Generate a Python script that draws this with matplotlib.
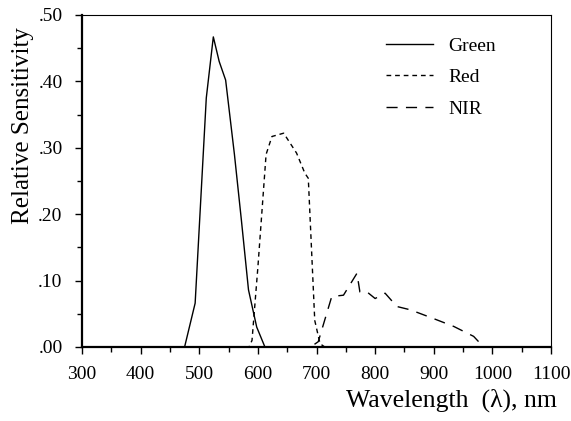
import matplotlib
matplotlib.use("Agg")
import matplotlib.pyplot as plt
from matplotlib.ticker import MultipleLocator, FuncFormatter

plt.rcParams['font.family'] = ['Liberation Serif', 'DejaVu Serif']

green_nm = [300, 470, 475, 493, 512, 524, 534, 545, 560, 572, 584, 598, 612, 1100]
green_val = [0.0, 0.0, 0.0, 0.066, 0.375, 0.467, 0.43, 0.402, 0.29, 0.19, 0.086, 0.03, 0.0, 0.0]

red_nm = [300, 585, 590, 600, 614, 624, 644, 666, 680, 686, 697, 706, 714, 1100]
red_val = [0.0, 0.0, 0.01, 0.12, 0.29, 0.317, 0.322, 0.292, 0.262, 0.254, 0.04, 0.005, 0.0, 0.0]

nir_nm = [300, 690, 703, 726, 746, 769, 774, 786, 800, 817, 837, 860, 899, 934, 968, 985, 1100]
nir_val = [0.0, 0.0, 0.008, 0.076, 0.078, 0.111, 0.083, 0.083, 0.073, 0.081, 0.061, 0.056, 0.043, 0.031, 0.016, 0.0, 0.0]

series_labels = ["Green", "Red", "NIR"]

fig = plt.figure(figsize=(5.71, 4.21), dpi=100)
ax = fig.add_axes([0.1436, 0.1758, 0.8214, 0.7886])

ax.plot(green_nm, green_val, color='black', lw=1.0, linestyle='-', label=series_labels[0])
ax.plot(red_nm, red_val, color='black', lw=1.0, linestyle=(0, (3.4, 2.8)), label=series_labels[1])
ax.plot(nir_nm, nir_val, color='black', lw=1.0, linestyle=(0, (8, 6)), label=series_labels[2])

ax.set_xlim(300, 1100)
ax.set_ylim(0, 0.5)
ax.xaxis.set_major_locator(MultipleLocator(100))
ax.xaxis.set_minor_locator(MultipleLocator(50))
ax.yaxis.set_major_locator(MultipleLocator(0.1))
ax.yaxis.set_minor_locator(MultipleLocator(0.05))
ax.yaxis.set_major_formatter(FuncFormatter(lambda v, p: ("%.2f" % v)[1:] if v < 1 else "%.2f" % v))

ax.tick_params(which='major', direction='out', length=5, width=1, labelsize=14, pad=9)
ax.tick_params(which='minor', direction='out', length=3.5, width=1)
for s in ['left', 'bottom']:
    ax.spines[s].set_linewidth(1.6)
for s in ['top', 'right']:
    ax.spines[s].set_linewidth(0.8)

fig.text(23 / 571, (421 - 126) / 421, "Relative Sensitivity", fontsize=18,
         rotation=90, ha='center', va='center')
fig.text(557 / 571, 14 / 421, "Wavelength  (\u03bb), nm", fontsize=18.5,
         ha='right', va='baseline')

leg = ax.legend(loc='upper left', bbox_to_anchor=(386 / 571, (421 - 37) / 421),
                bbox_transform=fig.transFigure, frameon=False, fontsize=14,
                handlelength=2.4, labelspacing=0.72, handletextpad=0.8, borderpad=0,
                borderaxespad=0)

fig.savefig("out.png", dpi=100)
